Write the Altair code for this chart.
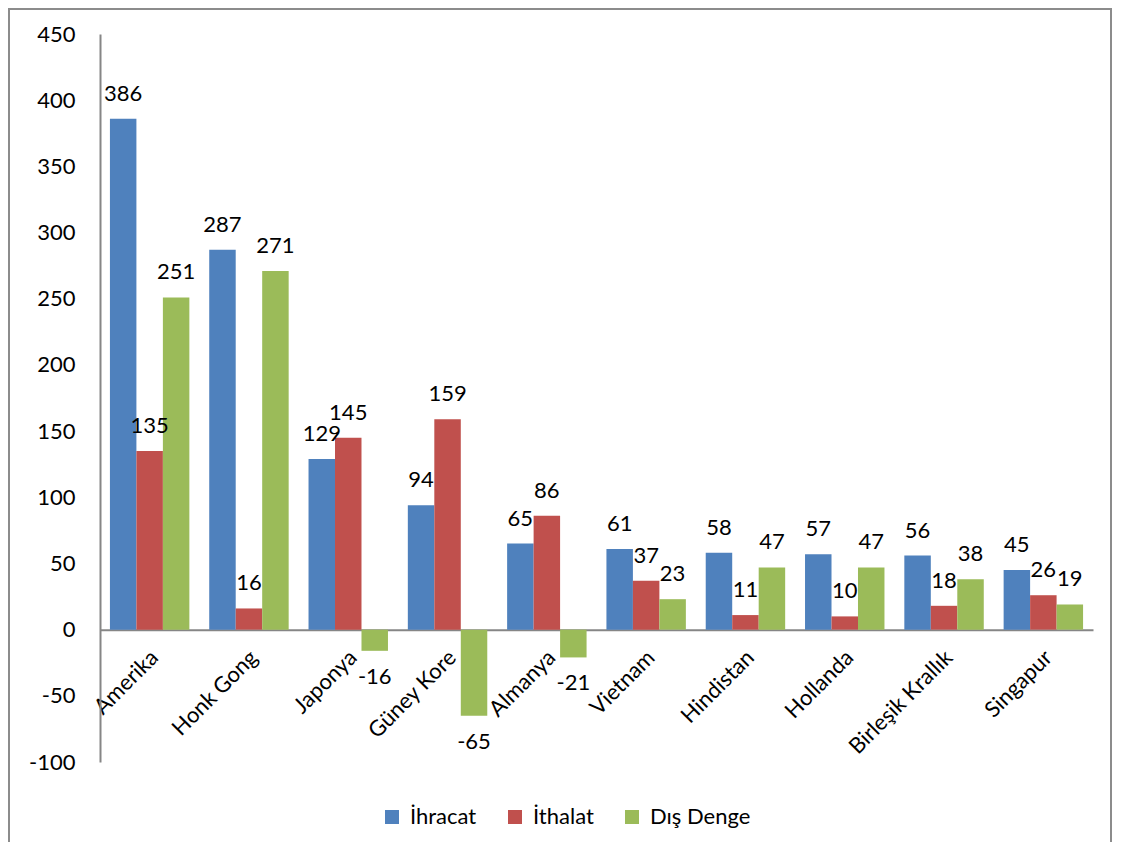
import altair as alt
import pandas as pd

countries = ["Amerika", "Honk Gong", "Japonya", "Güney Kore", "Almanya",
             "Vietnam", "Hindistan", "Hollanda", "Birleşik Krallık", "Singapur"]
ihracat = [386, 287, 129, 94, 65, 61, 58, 57, 56, 45]
ithalat = [135, 16, 145, 159, 86, 37, 11, 10, 18, 26]
dis_denge = [251, 271, -16, -65, -21, 23, 47, 47, 38, 19]
series = ["İhracat", "İthalat", "Dış Denge"]
colors = ["#4F81BD", "#C0504D", "#9BBB59"]
y_ticks = [-100, -50, 0, 50, 100, 150, 200, 250, 300, 350, 400, 450]

rows = []
for s, vals in zip(series, [ihracat, ithalat, dis_denge]):
    for c, v in zip(countries, vals):
        rows.append({"ulke": c, "seri": s, "deger": v})
df = pd.DataFrame(rows)

FONT = "Lato"
FS = 22
W, H = 993, 728
zero_offset = -(H - H * 450 / 550)

x_enc = alt.X("ulke:N", sort=countries, title=None,
              scale=alt.Scale(paddingInner=0.2, paddingOuter=0.1),
              axis=alt.Axis(labelAngle=-45, labelAlign="right", labelBaseline="middle",
                            labelPadding=24, labelOffset=5, ticks=False, tickSize=0,
                            domainColor="#868686", domainWidth=2, offset=zero_offset,
                            labelFontSize=FS, labelFont=FONT, labelColor="#000000",
                            grid=False))
y_enc = alt.Y("deger:Q", title=None,
              scale=alt.Scale(domain=[-100, 450], nice=False, zero=False),
              axis=alt.Axis(values=y_ticks, ticks=False, tickSize=0, labelPadding=25,
                            labelExpr="'' + datum.value",
                            domainColor="#868686", domainWidth=2, grid=False,
                            labelFontSize=FS, labelFont=FONT, labelColor="#000000"))
xoff = alt.XOffset("seri:N", sort=series)

base = alt.Chart(df).transform_calculate(lbl="'' + datum.deger")

bars = base.mark_bar().encode(
    x=x_enc, y=y_enc, xOffset=xoff,
    color=alt.Color("seri:N", sort=series, title=None,
                    scale=alt.Scale(domain=series, range=colors),
                    legend=alt.Legend(orient="none", legendX=281, legendY=772,
                                      direction="horizontal", symbolType="square",
                                      symbolSize=196, symbolStrokeWidth=0,
                                      labelFontSize=FS, labelFont=FONT,
                                      labelColor="#000000", labelOffset=7,
                                      columnPadding=27)),
)

pos_text = base.transform_filter("datum.deger >= 0").mark_text(
    baseline="alphabetic", dy=-18, fontSize=FS, font=FONT, color="#000000"
).encode(x=alt.X("ulke:N", sort=countries), y="deger:Q", xOffset=xoff, text="lbl:N")

neg_text = base.transform_filter("datum.deger < 0").mark_text(
    baseline="top", dy=16, fontSize=FS, font=FONT, color="#000000"
).encode(x=alt.X("ulke:N", sort=countries), y="deger:Q", xOffset=xoff, text="lbl:N")

frame = alt.Chart(pd.DataFrame({"k": [0]})).mark_rect(
    filled=False, stroke="#8c8c8c", strokeWidth=2
).encode(x=alt.value(-91), x2=alt.value(1011), y=alt.value(-25), y2=alt.value(840))

chart = alt.layer(bars, pos_text, neg_text, frame).properties(
    width=W, height=H,
    autosize=alt.AutoSizeParams(type="none"),
    padding={"left": 92, "top": 26, "right": 20, "bottom": 80},
).configure_view(stroke=None)

chart.save("out.html", embed_options={"renderer": "svg", "actions": False})
